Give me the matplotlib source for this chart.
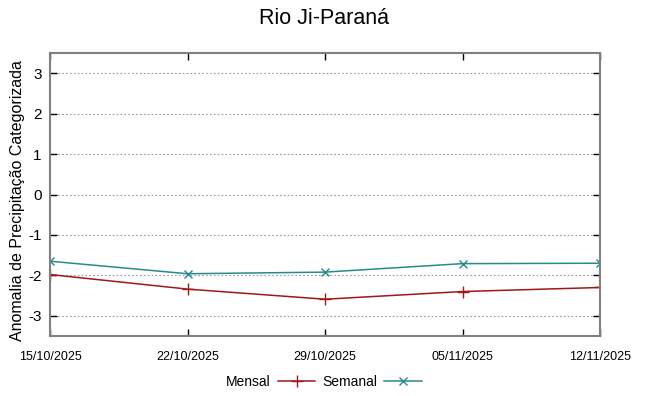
import matplotlib
matplotlib.use("Agg")
import matplotlib.pyplot as plt
import matplotlib.dates as mdates
import pandas as pd

title = "Rio Ji-Paraná"
ylabel = "Anomalia de Precipitação Categorizada"
dates = ["2025-10-15", "2025-10-22", "2025-10-29", "2025-11-05", "2025-11-12"]
mensal = [-1.98, -2.34, -2.59, -2.40, -2.30]
semanal = [-1.65, -1.96, -1.92, -1.71, -1.70]
yticks = [-3, -2, -1, 0, 1, 2, 3]

x = pd.to_datetime(dates)

plt.rcParams['font.family'] = ['Liberation Sans', 'DejaVu Sans']

fig = plt.figure(figsize=(6.48, 3.96), dpi=100)
ax = fig.add_axes([50/648, 1-336/396, 550/648, 283/396])

red = "#a01818"
teal = "#2a8a8a"
ax.plot(x, mensal, color=red, lw=1.1, marker='+', ms=8, mew=1.0, label="Mensal")
ax.plot(x, semanal, color=teal, lw=1.1, marker='x', ms=5.5, mew=1.0, label="Semanal")

ax.set_xlim(x[0], x[-1])
ax.set_ylim(-3.5, 3.5)
ax.set_yticks(yticks)
ax.set_yticklabels([str(v) for v in yticks])
ax.set_xticks(x)
ax.xaxis.set_major_formatter(mdates.DateFormatter('%d/%m/%Y'))
for lab in ax.get_xticklabels():
    lab.set_fontsize(9)
for lab in ax.get_yticklabels():
    lab.set_fontsize(11)
ax.tick_params(axis='both', direction='in', length=5, width=1, top=True, right=True, colors='black')
ax.tick_params(axis='x', pad=11)
ax.tick_params(axis='y', pad=6)
ax.grid(axis='y', linestyle=(0, (1.5, 2)), color='#999999', lw=0.8)
for s in ax.spines.values():
    s.set_color('#808080')
    s.set_linewidth(1.5)

ax.set_ylabel(ylabel, fontsize=11.5)
ax.yaxis.set_label_coords(-25/550, (336-201)/283)
fig.text(0.5, 1-19/396, title, ha='center', va='center', fontsize=15.5)

leg = fig.legend(loc='center', bbox_to_anchor=(0.5, 1-382/396), ncol=2, frameon=False,
                 markerfirst=False, handlelength=2.7, columnspacing=0.5, handletextpad=0.5,
                 prop={'size': 10})

fig.savefig("out.png", dpi=100)
